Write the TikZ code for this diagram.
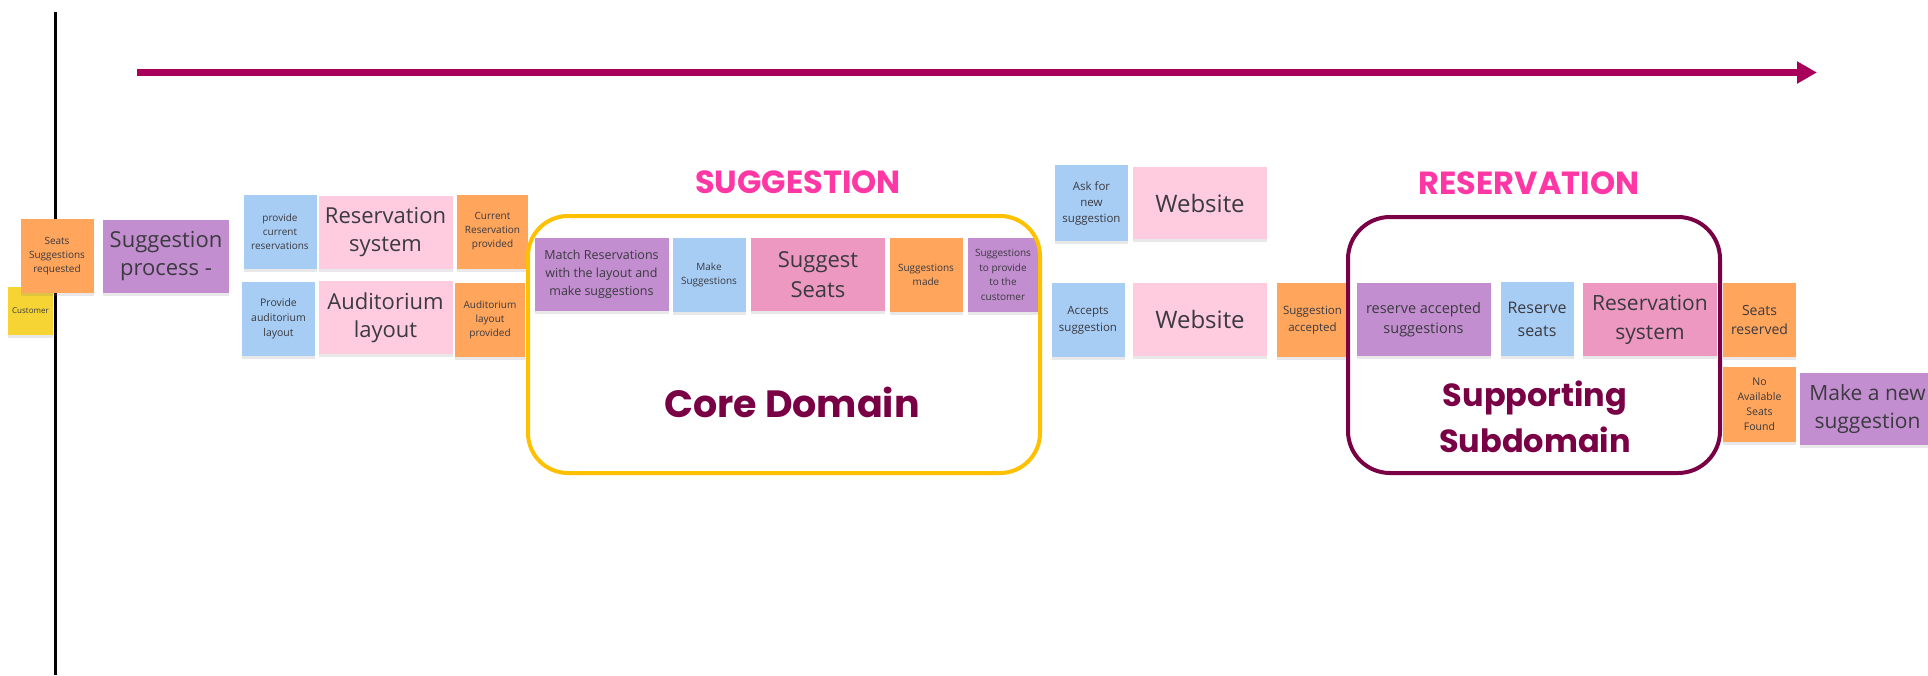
\documentclass[tikz,border=0pt]{standalone}
\usepackage{fontspec}
\setmainfont{Open Sans}
\newfontfamily\headfont{Poppins}
\usepackage{xcolor}
\usetikzlibrary{arrows.meta,shadows}
\definecolor{eventorange}{RGB}{255,165,92}
\definecolor{commandblue}{RGB}{168,205,245}
\definecolor{systempink}{RGB}{255,203,223}
\definecolor{hotpink}{RGB}{236,152,192}
\definecolor{policypurple}{RGB}{195,142,207}
\definecolor{actoryellow}{RGB}{245,212,52}
\definecolor{inkgray}{RGB}{58,58,64}
\definecolor{timered}{RGB}{168,0,90}
\definecolor{domainred}{RGB}{122,0,69}
\definecolor{headpink}{RGB}{255,55,165}
\definecolor{coregold}{RGB}{255,192,0}
\tikzset{
  sticky/.style={rectangle, align=center, inner sep=1pt, text=inkgray,
                 drop shadow={shadow xshift=0pt, shadow yshift=-3pt, opacity=.18}},
  sqnote/.style={sticky, minimum width=73pt, minimum height=74pt},
  widenote/.style={sticky, minimum width=134pt, minimum height=73pt},
  event/.style={fill=eventorange},
  command/.style={fill=commandblue},
  extsys/.style={fill=systempink},
  hotsys/.style={fill=hotpink},
  policy/.style={fill=policypurple},
  actor/.style={fill=actoryellow},
  tinytxt/.style={font=\fontsize{10}{14}\selectfont},
  midtxt/.style={font=\fontsize{11.5}{16}\selectfont},
  bigtxt/.style={font=\fontsize{22}{28}\selectfont},
  ctxbox/.style={draw, line width=4pt, rounded corners=40pt},
  ctxname/.style={font=\headfont\bfseries\fontsize{32}{32}\selectfont, text=headpink},
  domname/.style={text=domainred, align=center},
  timeline/.style={-{Triangle[length=20pt, width=21pt]}, line width=6.5pt, draw=timered}
}

\begin{document}
\begin{tikzpicture}[x=1pt, y=-1pt]
  \useasboundingbox (0,0) rectangle (1928,675);
  % swimlane and time arrow
  \coordinate (lanetop) at (55,12);
  \coordinate (lanebot) at (55,675);
  \draw[line width=3pt] (lanetop) -- (lanebot);
  \coordinate (tstart) at (137,72.5);
  \coordinate (tend) at (1817,72.5);
  \draw[timeline] (tstart) -- (tend);

  % trigger
  \node[sticky, actor, minimum width=45pt, minimum height=48pt,
        font=\fontsize{8}{10}\selectfont] (customer) at (30.5,311) {Customer};
  \node[sqnote, event, tinytxt] (seatsreq) at (57,256)
    {Seats\\Suggestions\\requested};
  \node[sticky, policy, bigtxt, minimum width=126pt, minimum height=73pt] (sugproc)
    at (166,256.5) {Suggestion\\process -};

  % reading the current state
  \node[sqnote, command, tinytxt] (provcur) at (280,232)
    {provide\\current\\reservations};
  \node[widenote, extsys, bigtxt] (ressysa) at (385.5,232.5)
    {Reservation\\system};
  \node[sqnote, event, tinytxt, minimum width=71pt] (curprov) at (492.5,231.5)
    {Current\\Reservation\\provided};
  \node[sqnote, command, font=\fontsize{10.5}{15}\selectfont] (provaud)
    at (278.5,318.5) {Provide\\auditorium\\layout};
  \node[widenote, extsys, bigtxt] (audlay) at (385.5,317.5)
    {Auditorium\\layout};
  \node[sqnote, event, tinytxt, minimum width=70pt] (audprov) at (490,319.5)
    {Auditorium\\layout\\provided};

  % suggestion context
  \node[widenote, policy, font=\fontsize{12.5}{18}\selectfont] (match)
    at (601.5,274.5) {Match Reservations\\with the layout and\\make suggestions};
  \node[sqnote, command, tinytxt] (makesug) at (709,274.5)
    {Make\\Suggestions};
  \node[widenote, hotsys, font=\fontsize{22}{30}\selectfont] (sugseats)
    at (818,274.5) {Suggest\\Seats};
  \node[sqnote, event, tinytxt] (sugmade) at (926,274.5)
    {Suggestions\\made};
  \node[sqnote, policy, font=\fontsize{10}{14.5}\selectfont, minimum width=70pt]
    (sugcust) at (1003,275) {Suggestions\\to provide\\to the\\customer};

  % customer decision
  \node[sqnote, command, midtxt, minimum height=76pt] (asknew) at (1091.5,203)
    {Ask for\\new\\suggestion};
  \node[widenote, extsys, font=\fontsize{24}{30}\selectfont, minimum height=72pt]
    (weba) at (1200,203) {Website};
  \node[sqnote, command, font=\fontsize{11.5}{17}\selectfont] (accepts)
    at (1088,320) {Accepts\\suggestion};
  \node[widenote, extsys, font=\fontsize{24}{30}\selectfont] (webb)
    at (1200,319.5) {Website};
  \node[sqnote, event, font=\fontsize{11.5}{17}\selectfont, minimum width=71pt]
    (sugacc) at (1312.5,320) {Suggestion\\accepted};

  % reservation context
  \node[widenote, policy, font=\fontsize{14.5}{20}\selectfont] (resacc)
    at (1423.5,319.5) {reserve accepted\\suggestions};
  \node[sqnote, command, font=\fontsize{16}{23}\selectfont] (resseats)
    at (1537,319) {Reserve\\seats};
  \node[widenote, hotsys, font=\fontsize{21}{29}\selectfont] (ressysb)
    at (1650,319.5) {Reservation\\system};
  \node[sqnote, event, font=\fontsize{14}{19}\selectfont] (seatsres)
    at (1759.5,320) {Seats\\reserved};
  \node[sqnote, event, font=\fontsize{10.5}{15}\selectfont, minimum height=75pt]
    (noseats) at (1759.5,404.5) {No\\Available\\Seats\\Found};
  \node[widenote, policy, font=\fontsize{21}{28}\selectfont, minimum width=135pt,
        minimum height=72pt] (makenew) at (1867.5,409) {Make a new\\suggestion};

  % bounded contexts
  \node[ctxbox, draw=coregold, minimum width=512pt, minimum height=257pt] (corebox)
    at (784,344.5) {};
  \node[ctxname] (sugctx) at (798,182) {SUGGESTION};
  \node[domname, font=\headfont\bfseries\fontsize{38}{38}\selectfont] (coredom)
    at (792,402) {Core Domain};
  \node[domname, font=\headfont\bfseries\fontsize{32}{46}\selectfont] (suppdom)
    at (1535,417) {Supporting\\Subdomain};
  \node[ctxbox, draw=domainred, minimum width=372pt, minimum height=256pt,
        rounded corners=42pt] (suppbox) at (1534,345) {};
  \node[ctxname] (resctx) at (1529,183) {RESERVATION};
\end{tikzpicture}
\end{document}
